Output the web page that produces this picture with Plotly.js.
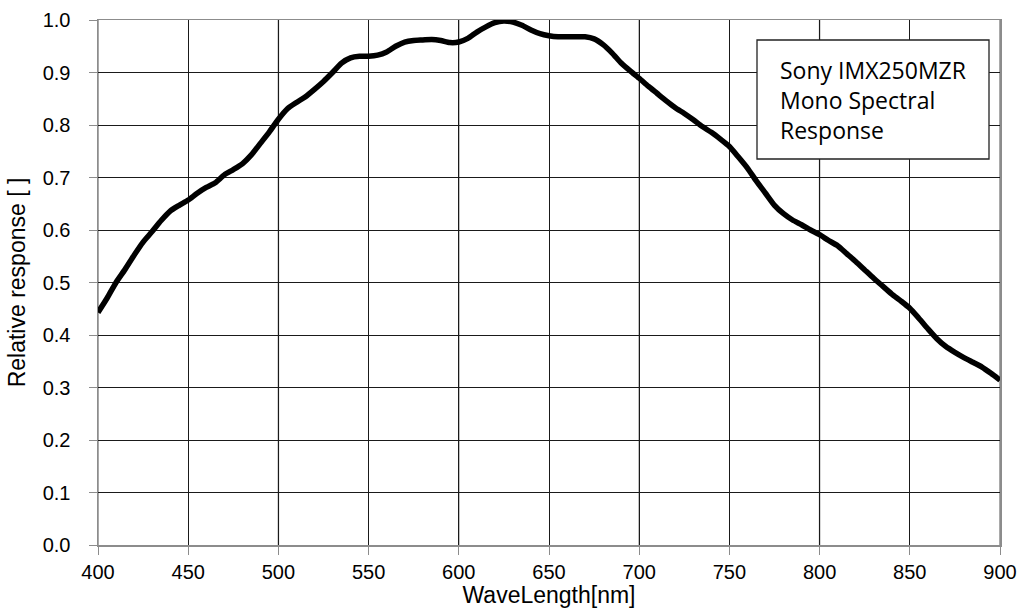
<!DOCTYPE html>
<html>
<head>
<meta charset="utf-8">
<script src="https://cdn.plot.ly/plotly-3.0.1.min.js"></script>
<style>html,body{margin:0;padding:0;background:#fff;}#chart{width:1029px;height:613px;}</style>
</head>
<body>
<div id="chart"></div>
<script>
const wavelength = [400,405,410,415,420,425,430,435,440,445,450,455,460,465,470,475,480,485,490,495,500,505,510,515,520,525,530,535,540,545,550,555,560,565,570,575,580,585,590,595,600,605,610,615,620,625,630,635,640,645,650,655,660,665,670,675,680,685,690,695,700,705,710,715,720,725,730,735,740,745,750,755,760,765,770,775,780,785,790,795,800,805,810,815,820,825,830,835,840,845,850,855,860,865,870,875,880,885,890,895,900];
const response = [0.443,0.470,0.500,0.525,0.552,0.577,0.597,0.618,0.636,0.647,0.657,0.670,0.681,0.690,0.705,0.715,0.726,0.743,0.765,0.787,0.811,0.831,0.843,0.854,0.868,0.883,0.900,0.918,0.928,0.931,0.931,0.933,0.939,0.950,0.958,0.961,0.962,0.963,0.961,0.957,0.958,0.965,0.977,0.987,0.995,0.998,0.996,0.990,0.981,0.974,0.970,0.968,0.968,0.968,0.968,0.964,0.953,0.937,0.918,0.903,0.889,0.874,0.860,0.846,0.833,0.822,0.810,0.797,0.786,0.773,0.759,0.739,0.718,0.693,0.670,0.647,0.631,0.619,0.610,0.600,0.591,0.580,0.570,0.555,0.540,0.524,0.508,0.493,0.478,0.465,0.451,0.432,0.412,0.393,0.378,0.367,0.357,0.348,0.339,0.327,0.314];
const grayGridX = [400,500,600,700,800,900];
const legendLines = ["Sony IMX250MZR","Mono Spectral","Response"];

const shapes = grayGridX.map(v => ({type:'line', xref:'x', yref:'paper', x0:v, x1:v, y0:0, y1:1, line:{color:'#8c8c8c', width:1.5}, layer:'below'}));
shapes.push({type:'rect', xref:'paper', yref:'paper', x0:(757-98)/902, x1:(989-98)/902, y0:(545-159)/525, y1:(545-40)/525, line:{color:'#222', width:1.3}, fillcolor:'#fff', layer:'above'});

const data = [{
  x: wavelength, y: response, type:'scatter', mode:'lines',
  line:{color:'#000', width:5.5, shape:'spline', smoothing:0.6},
  hoverinfo:'skip'
}];

const layout = {
  width:1029, height:613,
  margin:{l:98, r:29, t:20, b:68},
  paper_bgcolor:'#fff', plot_bgcolor:'#fff',
  showlegend:false,
  font:{family:'Liberation Sans, Arial, sans-serif', color:'#000'},
  xaxis:{
    range:[400,900], dtick:50, tick0:400, showgrid:true, gridcolor:'#1a1a1a', gridwidth:1,
    zeroline:false, showline:true, linecolor:'#8c8c8c', linewidth:1.5, mirror:true,
    ticks:'outside', ticklen:8, tickcolor:'#8c8c8c',
    tickfont:{size:20, family:'Liberation Sans, Arial, sans-serif'},
    title:{text:'WaveLength[nm]', font:{size:23}, standoff:2}
  },
  yaxis:{
    range:[0,1], dtick:0.1, tickformat:'.1f', showgrid:true, gridcolor:'#1a1a1a', gridwidth:1,
    zeroline:false, showline:true, linecolor:'#8c8c8c', linewidth:1.5, mirror:true,
    ticks:'outside', ticklen:8, tickcolor:'#8c8c8c', ticklabelstandoff:14,
    tickfont:{size:20, family:'Liberation Sans, Arial, sans-serif'},
    title:{text:'Relative response [ ]', font:{size:23}, standoff:10}
  },
  shapes: shapes,
  annotations:[{
    xref:'paper', yref:'paper', x:(778-98)/902, y:(545-52)/525, xanchor:'left', yanchor:'top',
    text: legendLines.join('<br>'), showarrow:false, align:'left',
    font:{size:23, family:'Open Sans, sans-serif', color:'#000'}
  }]
};

Plotly.newPlot('chart', data, layout, {displayModeBar:false, staticPlot:true});
</script>
</body>
</html>
